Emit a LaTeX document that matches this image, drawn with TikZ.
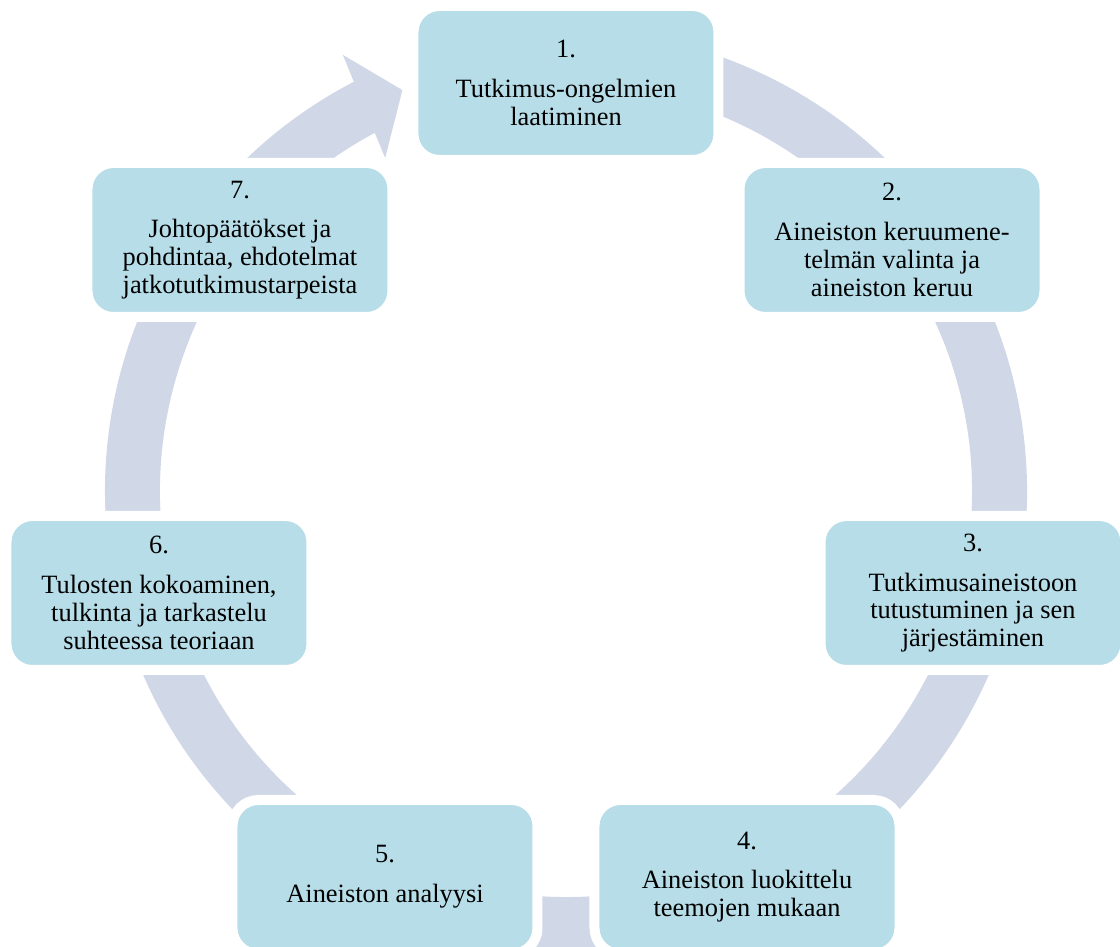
\documentclass[tikz,border=0pt]{standalone}
\usepackage{fontspec}
\setmainfont{Liberation Serif}
\usepackage{tikz}
\definecolor{boxblue}{RGB}{183,221,232}
\definecolor{ringblue}{RGB}{208,215,231}

\begin{document}
\begin{tikzpicture}[x=0.5pt,y=0.5pt,
  stepbox/.style={fill=boxblue,draw=white,line width=5pt,rounded corners=13pt,
    minimum width=152.5pt,minimum height=77pt,inner sep=0pt,align=center,
    font=\fontsize{13.2}{13.9}\selectfont}]
\useasboundingbox (-566,-456) rectangle (554,491);

  \fill [ringblue] (100:461) arc[start angle=100,end angle=-242.6,radius=461]
    -- (117.1:490) -- (112.2:433) -- (118.5:379) -- (118.1:406)
    arc[start angle=-241.9,end angle=100,radius=406] -- cycle;

  \node (s1) at (0,408) [stepbox] {1.\\[6pt]Tutkimus-ongelmien\\laatiminen};
  \node (s2) at (326,251) [stepbox] {2.\\[6pt]Aineiston keruumene-\\telmän valinta ja\\aineiston keruu};
  \node (s3) at (407,-102) [stepbox] {3.\\[6pt]Tutkimusaineistoon\\tutustuminen ja sen\\järjestäminen};
  \node (s4) at (181,-386) [stepbox] {4.\\[6pt]Aineiston luokittelu\\teemojen mukaan};
  \node (s5) at (-181,-386) [stepbox] {5.\\[6pt]Aineiston analyysi};
  \node (s6) at (-407,-102) [stepbox] {6.\\[6pt]Tulosten kokoaminen,\\tulkinta ja tarkastelu\\suhteessa teoriaan};
  \node (s7) at (-326,251) [stepbox] {7.\\[6pt]Johtopäätökset ja\\pohdintaa, ehdotelmat\\jatkotutkimustarpeista};

\end{tikzpicture}
\end{document}
